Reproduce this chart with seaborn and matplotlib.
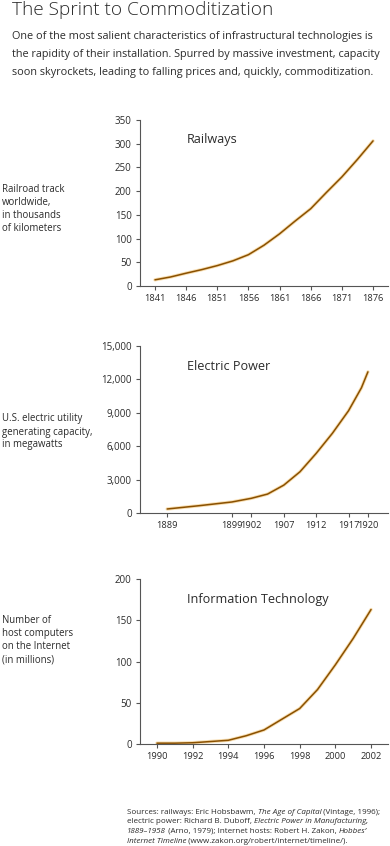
import numpy as np
import pandas as pd
import seaborn as sns
import matplotlib.pyplot as plt

# data
rail_years = [1841, 1843.5, 1846, 1848.5, 1851, 1853.5, 1856, 1858.5, 1861, 1863.5,
              1866, 1868.5, 1871, 1873.5, 1876]
rail_km = [13, 19, 27, 34.5, 43, 53, 66, 86, 110, 137, 163, 197, 230, 267, 306]

power_years = [1889, 1894, 1899, 1902, 1904.5, 1907, 1909.5, 1912, 1914.5, 1917, 1919, 1920]
power_mw = [360, 660, 990, 1320, 1700, 2500, 3700, 5350, 7150, 9180, 11250, 12680]

net_years = [1990, 1991, 1992, 1993, 1994, 1995, 1996, 1997, 1998, 1999, 2000, 2001, 2002]
net_hosts = [1, 1, 1.5, 3, 4.5, 10, 17, 30, 43, 66, 96, 128, 163]

rail_ticks = [1841, 1846, 1851, 1856, 1861, 1866, 1871, 1876]
power_ticks = [1889, 1899, 1902, 1907, 1912, 1917, 1920]
net_ticks = [1990, 1992, 1994, 1996, 1998, 2000, 2002]

title = "The Sprint to Commoditization"
intro = ["One of the most salient characteristics of infrastructural technologies is",
         "the rapidity of their installation. Spurred by massive investment, capacity",
         "soon skyrockets, leading to falling prices and, quickly, commoditization."]

sns.set_style("ticks")
plt.rcParams['font.family'] = ['Open Sans', 'DejaVu Sans']
TXT = '#2b2b2b'
AX = '#555555'
LINE = '#8a5000'
GLOW = '#f3c77a'

fig = plt.figure(figsize=(3.9, 8.46), dpi=100)

fig.text(12 / 390, 1 - 10 / 846, title, fontsize=13.7, color=TXT, va='center', ha='left', fontweight='light')
for line, yy in zip(intro, [37, 55, 73]):
    fig.text(12 / 390, 1 - yy / 846, line, fontsize=7.85, color=TXT, va='center', ha='left')

panels = [
    dict(x=rail_years, y=rail_km, ticks=rail_ticks, xlim=(1838.6, 1878.4), ylim=(0, 350),
         yticks=[0, 50, 100, 150, 200, 250, 300, 350], top=120, bottom=286, name="Railways",
         label="Railroad track\nworldwide,\nin thousands\nof kilometers", label_y=209, fmt=None),
    dict(x=power_years, y=power_mw, ticks=power_ticks, xlim=(1884.8, 1923.1), ylim=(0, 15000),
         yticks=[0, 3000, 6000, 9000, 12000, 15000], top=346, bottom=513, name="Electric Power",
         label="U.S. electric utility\ngenerating capacity,\nin megawatts", label_y=432, fmt="{:,.0f}"),
    dict(x=net_years, y=net_hosts, ticks=net_ticks, xlim=(1989.05, 2002.95), ylim=(0, 200),
         yticks=[0, 50, 100, 150, 200], top=579, bottom=744, name="Information Technology",
         label="Number of\nhost computers\non the Internet\n(in millions)", label_y=640, fmt=None),
]

for p in panels:
    ax = fig.add_axes([140 / 390, 1 - p['bottom'] / 846, 248 / 390, (p['bottom'] - p['top']) / 846])
    df = pd.DataFrame({'year': p['x'], 'value': p['y']})
    sns.lineplot(data=df, x='year', y='value', ax=ax, color=GLOW, linewidth=2.4, alpha=0.6)
    sns.lineplot(data=df, x='year', y='value', ax=ax, color=LINE, linewidth=1.1)
    ax.set_xlim(*p['xlim'])
    ax.set_ylim(*p['ylim'])
    ax.set_xticks(p['ticks'])
    ax.set_xticklabels([str(t) for t in p['ticks']])
    ax.set_yticks(p['yticks'])
    if p['fmt']:
        ax.set_yticklabels([p['fmt'].format(v) for v in p['yticks']])
    ax.set_xlabel('')
    ax.set_ylabel('')
    sns.despine(ax=ax)
    for s in ['left', 'bottom']:
        ax.spines[s].set_color(AX)
        ax.spines[s].set_linewidth(0.8)
    ax.tick_params(axis='both', length=3, width=0.8, color=AX, labelsize=7.0, labelcolor=TXT, pad=3)
    ax.tick_params(axis='x', labelsize=6.7)
    ax.patch.set_alpha(0)
    ax.text(187 / 390, 1 - (p['top'] + 20) / 846, p['name'], transform=fig.transFigure,
            fontsize=9.1, color=TXT, va='center', ha='left')
    fig.text(2 / 390, 1 - p['label_y'] / 846, p['label'], fontsize=6.9, color=TXT,
             va='center', ha='left', linespacing=1.25)

# sources note with italic titles
src_lines = [
    [("Sources: railways: Eric Hobsbawm, ", 'normal'), ("The Age of Capital", 'italic'), (" (Vintage, 1996);", 'normal')],
    [("electric power: Richard B. Duboff, ", 'normal'), ("Electric Power in Manufacturing,", 'italic')],
    [("1889\u20131958", 'italic'), (" (Arno, 1979); Internet hosts: Robert H. Zakon, ", 'normal'), ("Hobbes\u2019", 'italic')],
    [("Internet Timeline", 'italic'), (" (www.zakon.org/robert/internet/timeline/).", 'normal')],
]
src_y = [812, 821.7, 831.4, 841.1]
placed = []
for runs, yy in zip(src_lines, src_y):
    row = []
    for s, style in runs:
        row.append(fig.text(127 / 390, 1 - yy / 846, s, fontsize=5.8, style=style, color=TXT,
                            va='center', ha='left'))
    placed.append(row)

fig.canvas.draw()
renderer = fig.canvas.get_renderer()
for row, yy in zip(placed, src_y):
    x_px = 127
    for t in row:
        t.set_position((x_px / 390, 1 - yy / 846))
        x_px += t.get_window_extent(renderer).width

fig.savefig("out.png", dpi=100)
